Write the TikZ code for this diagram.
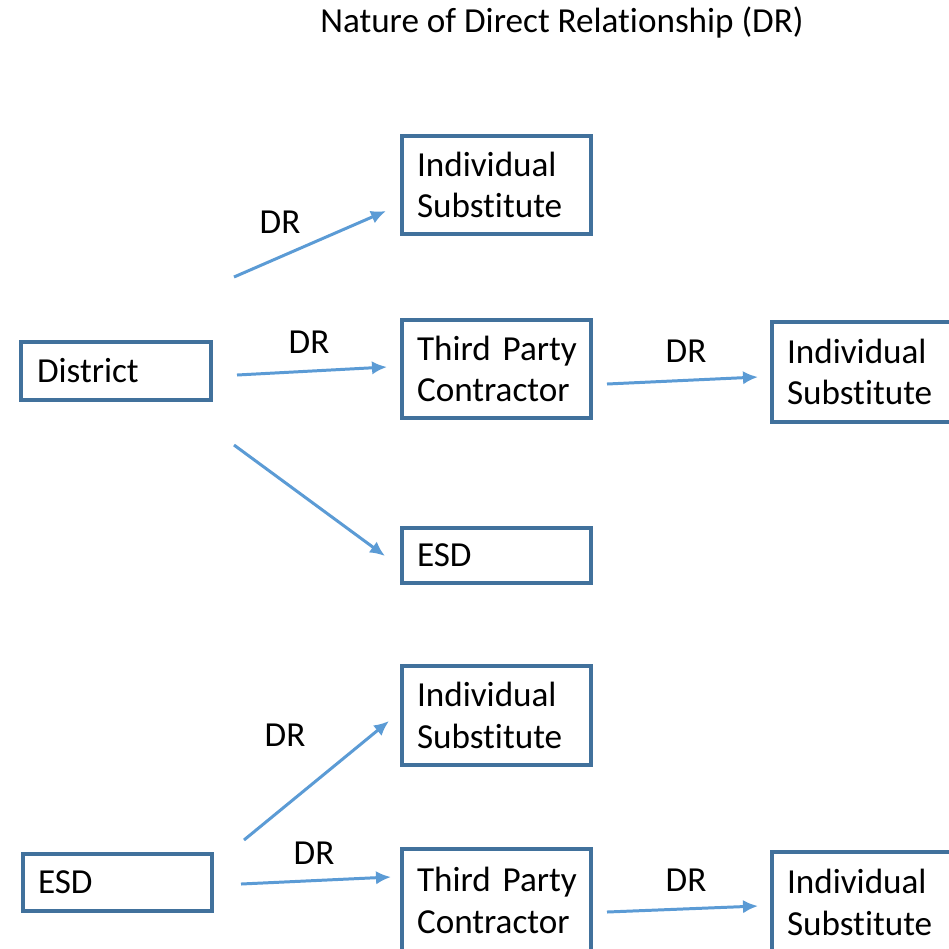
\documentclass[tikz,border=0pt]{standalone}
\usepackage{fontspec}
\setmainfont[Ligatures=NoCommon]{Carlito}
\usetikzlibrary{arrows.meta}
\definecolor{boxblue}{HTML}{41719C}
\definecolor{arrowblue}{HTML}{5B9BD5}
\newcommand{\oneline}[1]{\makebox[0pt][l]{#1}}
\tikzset{
  box/.style={draw=boxblue, line width=2pt, rectangle, align=left,
    inner xsep=0.3cm, inner ysep=0pt, text width=3.18cm,
    minimum width=3.78cm, font=\fontsize{20}{23.8}\selectfont},
  conn/.style={draw=arrowblue, line width=1.7pt, -{Latex[length=0.3cm,width=0.27cm]}},
  lbl/.style={font=\fontsize{20}{22}\selectfont, inner sep=0pt}
}
\begin{document}
\begin{tikzpicture}[x=0.02cm,y=-0.02cm]
\clip (0,0) rectangle (949,948);
\fill[white] (0,0) rectangle (949,948);
\node[lbl] (title) at (562,22) {Nature of Direct Relationship (DR)};
% boxes
\node[box, minimum height=1.96cm] (is1) at (496.5,185) {Individual\\Substitute};
\node[box, minimum height=1.16cm, minimum width=3.8cm, text width=3.16cm, inner xsep=0.32cm] (district) at (116,371) {District};
\node[box, minimum height=1.96cm] (tpc1) at (496.5,369) {\oneline{Third Party}\\Contractor};
\node[box, minimum height=2.0cm] (is2) at (866.5,372) {Individual\\Substitute};
\node[box, minimum height=1.1cm] (esd1) at (496.5,555.5) {ESD};
\node[box, minimum height=1.98cm] (is3) at (496.5,715.5) {Individual\\Substitute};
\node[box, minimum height=1.14cm] (esd2) at (117.5,882.5) {ESD};
\node[box, minimum height=2.04cm] (tpc2) at (496.5,900) {\oneline{Third Party}\\Contractor};
\node[box, minimum height=2.0cm] (is4) at (866.5,902) {Individual\\Substitute};
% connector end points
\coordinate (a1s) at (234,277); \coordinate (a1e) at (386,211);
\coordinate (a2s) at (237,375); \coordinate (a2e) at (387,367);
\coordinate (a3s) at (607,384); \coordinate (a3e) at (758,377);
\coordinate (a4s) at (234,445); \coordinate (a4e) at (385,556);
\coordinate (a5s) at (244,840); \coordinate (a5e) at (389,721);
\coordinate (a6s) at (241,884); \coordinate (a6e) at (391,877);
\coordinate (a7s) at (607,912); \coordinate (a7e) at (758,906);
\draw[conn] (a1s) -- (a1e);
\draw[conn] (a2s) -- (a2e);
\draw[conn] (a3s) -- (a3e);
\draw[conn] (a4s) -- (a4e);
\draw[conn] (a5s) -- (a5e);
\draw[conn] (a6s) -- (a6e);
\draw[conn] (a7s) -- (a7e);
% labels
\node[lbl] (l1) at (280,222) {DR};
\node[lbl] (l2) at (309,342) {DR};
\node[lbl] (l3) at (686,351) {DR};
\node[lbl] (l5) at (285,735) {DR};
\node[lbl] (l6) at (314,853) {DR};
\node[lbl] (l7) at (686,880) {DR};
\end{tikzpicture}
\end{document}
